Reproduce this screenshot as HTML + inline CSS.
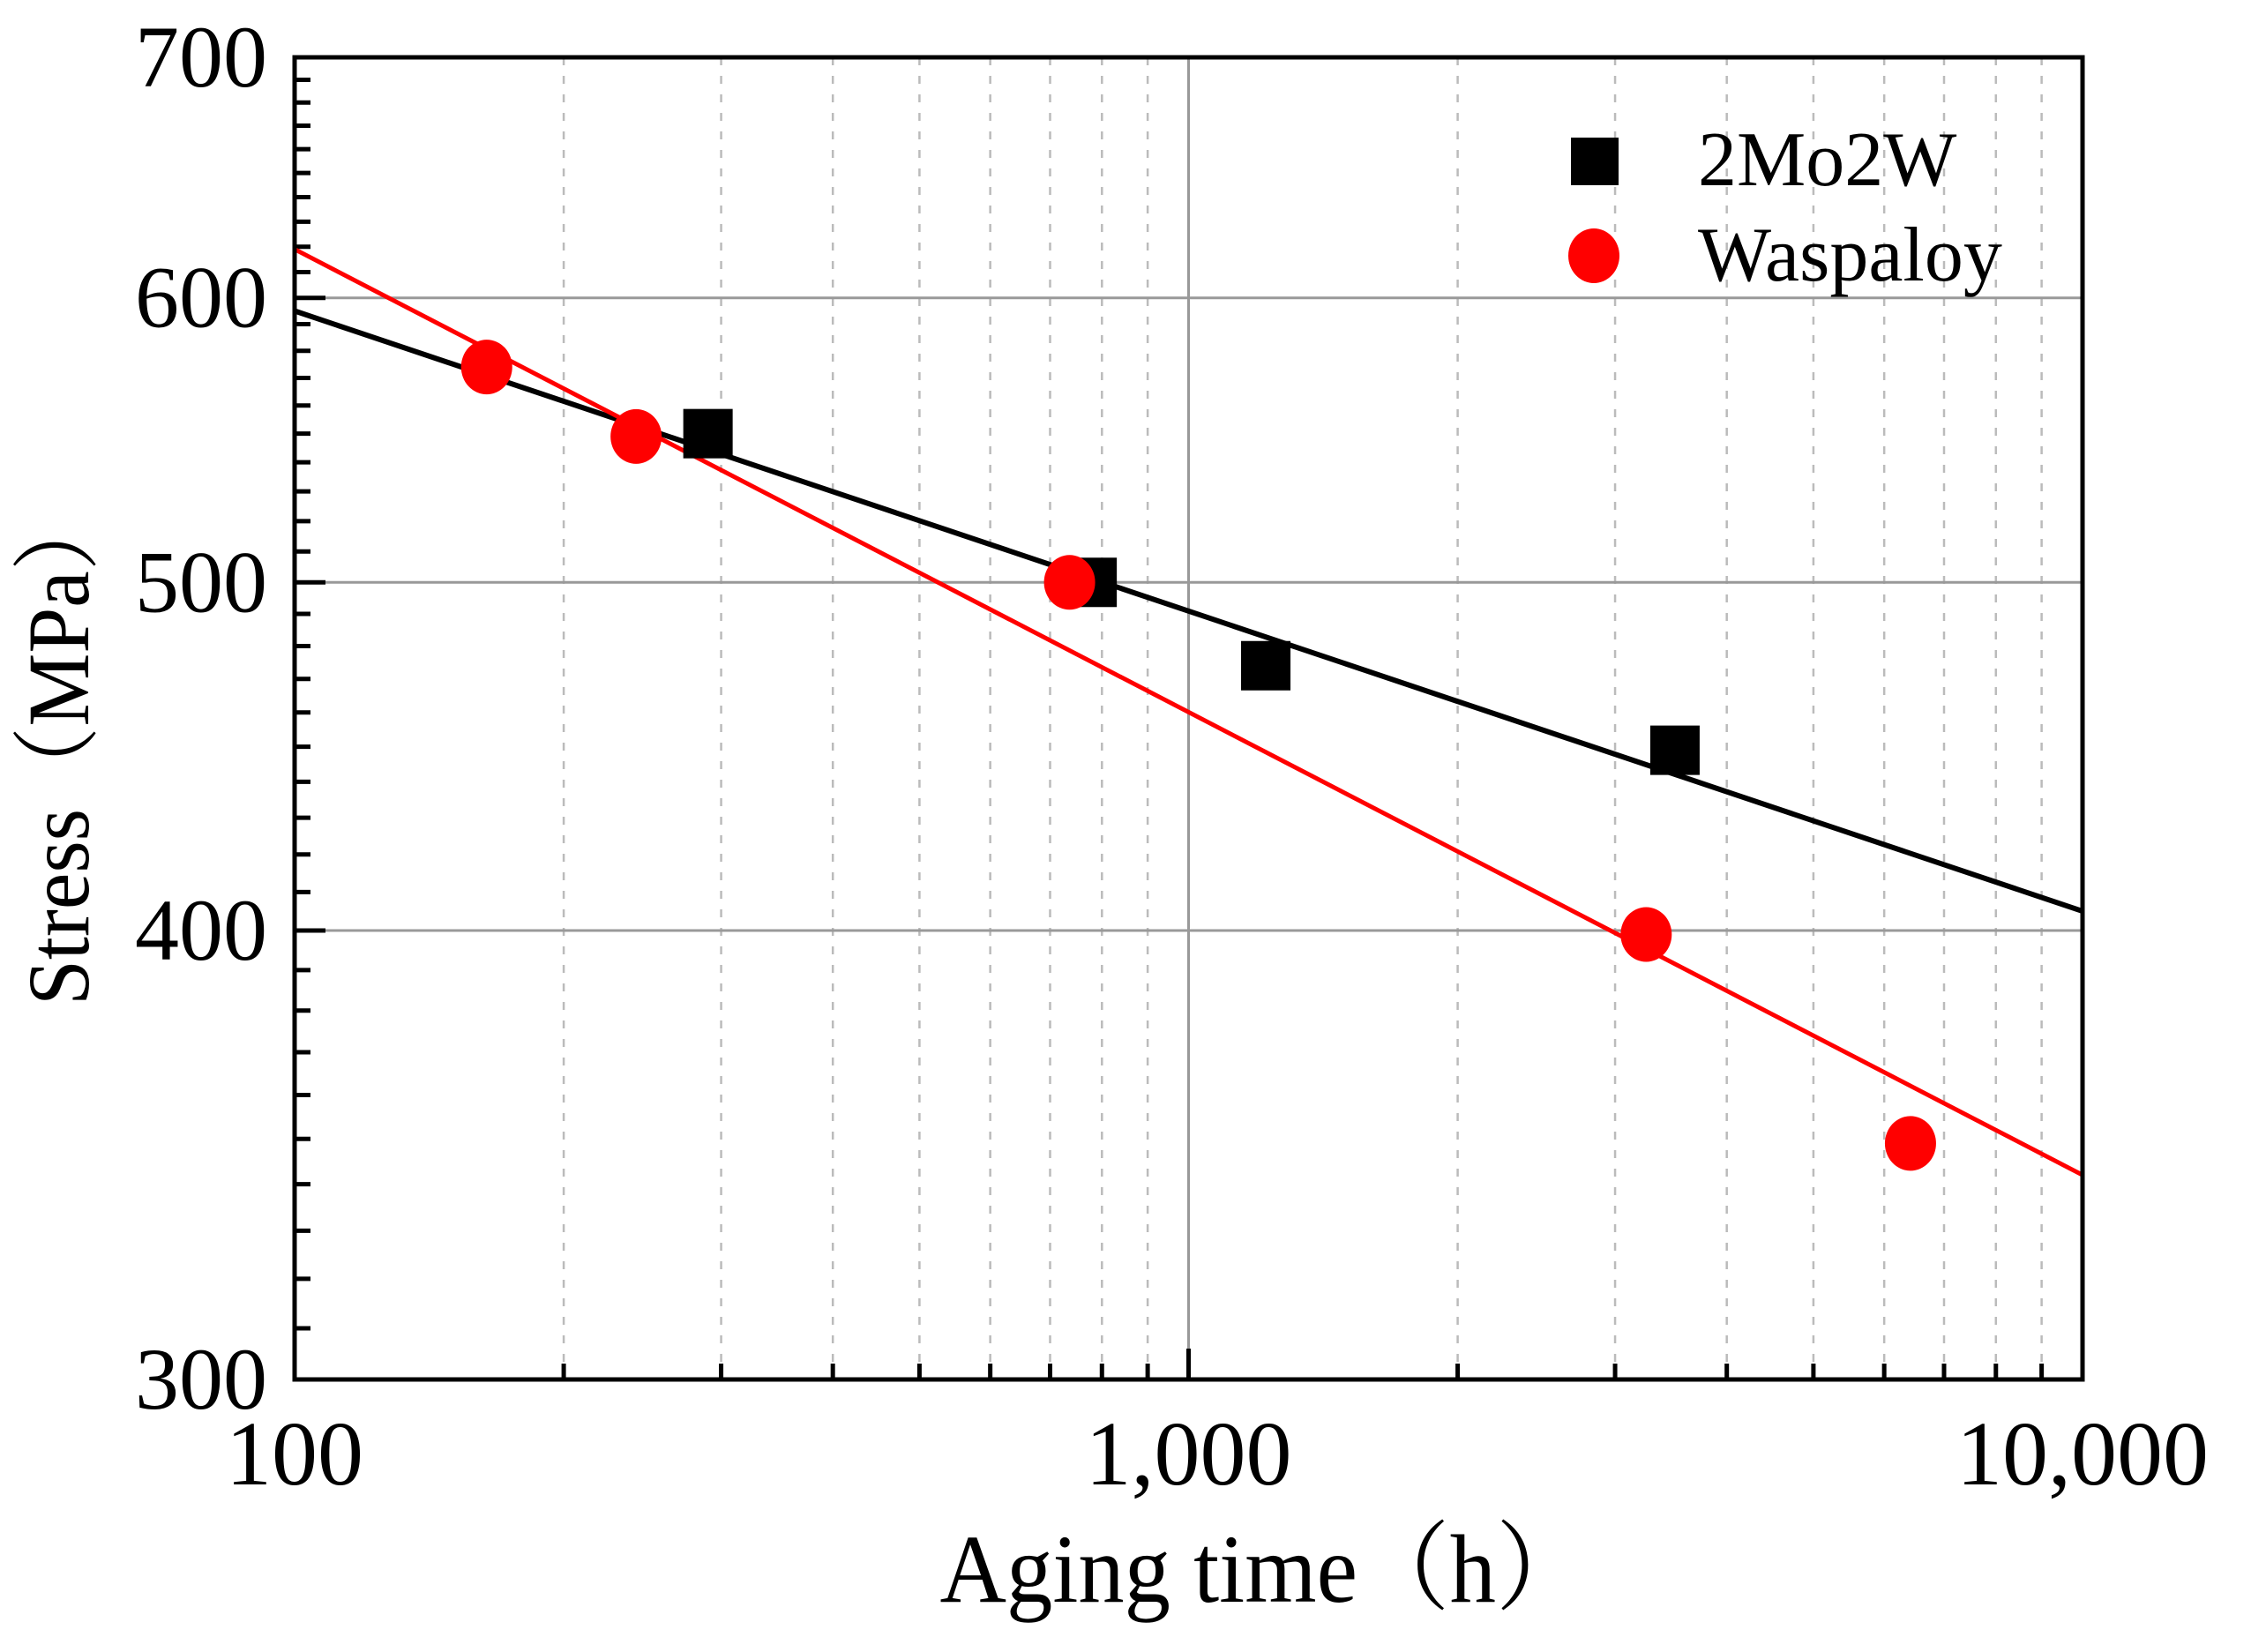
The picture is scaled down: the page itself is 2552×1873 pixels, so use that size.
<!DOCTYPE html>
<html><head><meta charset="utf-8"><style>html,body{margin:0;padding:0;background:#fff}svg{display:block}</style></head>
<body>
<svg id="chart" width="2552" height="1873" viewBox="0 0 2552 1873" xmlns="http://www.w3.org/2000/svg" font-family="'Liberation Serif','Noto Serif CJK SC',serif">
<rect width="2552" height="1873" fill="#fff"/>
<g id="grid"></g>
<g id="ticks"></g>
<g id="series"></g>
<rect x="334" y="65" width="2027" height="1499" fill="none" stroke="#000" stroke-width="5"/>
<g id="labels"></g>
<text x="1433" y="1816" font-size="110" text-anchor="middle" textLength="735" lengthAdjust="spacingAndGlyphs">Aging time（h）</text>
<text transform="translate(100,847) rotate(-90)" font-size="100" text-anchor="middle" textLength="586" lengthAdjust="spacingAndGlyphs">Stress（MPa）</text>
<g>
<rect x="1781" y="156" width="54" height="54" fill="#000"/>
<text x="1925" y="210" font-size="88">2Mo2W</text>
<ellipse cx="1807" cy="290" rx="29" ry="31" fill="#f00"/>
<text x="1925" y="318" font-size="88">Waspaloy</text>
</g>
</svg>
<script>
const moTimes = [290, 780, 1220, 3500];
const moStress = [550, 500, 474, 449];
const waTimes = [164, 241, 736, 3250, 6420];
const waStress = [574, 549, 500, 399, 349];
const moFit = [595, 405];
const waFit = [619, 342];
const fitTimes = [100, 10000];
const yMajor = [300, 400, 500, 600, 700];
const xMajor = [100, 1000, 10000];
const xMajorLabels = ["100", "1,000", "10,000"];

const NS = "http://www.w3.org/2000/svg";
const L = 334, R = 2361, T = 65, B = 1564;
function xs(v){ return L + (Math.log10(v) - 2) / 2 * (R - L); }
function ys(v){ return B - (Math.log10(v) - Math.log10(300)) / (Math.log10(700) - Math.log10(300)) * (B - T); }
function mk(tag, attrs, parent){ const e = document.createElementNS(NS, tag); for (const k in attrs) e.setAttribute(k, attrs[k]); parent.appendChild(e); return e; }
const grid = document.getElementById('grid'), ticks = document.getElementById('ticks'), series = document.getElementById('series'), labels = document.getElementById('labels');

for (let d = 100; d < 10000; d *= 10) {
  for (let m = 1; m <= 9; m++) {
    const v = d * m; if (v === 100) continue;
    const x = xs(v);
    const major = (m === 1);
    const gl = mk('line', {x1:x, x2:x, y1:T, y2:B, stroke: major ? '#999' : '#bbb', 'stroke-width': major ? 3 : 2.5, 'stroke-dasharray': major ? 'none' : '9,12'}, grid);
    
    
    const tk = mk('line', {x1:x, x2:x, y1:B, y2:B - (major ? 35 : 18), stroke:'#000', 'stroke-width':5}, ticks);
    
    
  }
}
for (let v = 310; v < 700; v += 10) {
  const y = ys(v);
  const major = (v % 100 === 0);
  if (major) {
    const gl = mk('line', {x1:L, x2:R, y1:y, y2:y, stroke:'#999', 'stroke-width':3}, grid);
    
    
  }
  const tk = mk('line', {x1:L, x2:L + (major ? 35 : 18), y1:y, y2:y, stroke:'#000', 'stroke-width':5}, ticks);
  
  
}
yMajor.forEach(v => {
  const t = mk('text', {x:303, y:ys(v) + 33, 'font-size':100, 'text-anchor':'end'}, labels);
  t.textContent = String(v);
  
  
});
xMajor.forEach((v, i) => {
  const t = mk('text', {x:xs(v), y:1683, 'font-size':104, 'text-anchor':'middle'}, labels);
  t.textContent = xMajorLabels[i];
  
  
});
const fl1 = mk('line', {x1:xs(fitTimes[0]), y1:ys(moFit[0]), x2:xs(fitTimes[1]), y2:ys(moFit[1]), stroke:'#000', 'stroke-width':6}, series);


const fl2 = mk('line', {x1:xs(fitTimes[0]), y1:ys(waFit[0]), x2:xs(fitTimes[1]), y2:ys(waFit[1]), stroke:'#f00', 'stroke-width':5}, series);


moTimes.forEach((t, i) => {
  const r = mk('rect', {x:xs(t) - 28, y:ys(moStress[i]) - 28, width:56, height:56, fill:'#000'}, series);
  
  
});
waTimes.forEach((t, i) => {
  const c = mk('ellipse', {cx:xs(t), cy:ys(waStress[i]), rx:29, ry:31, fill:'#f00'}, series);
  
  
});
</script>
</body></html>
